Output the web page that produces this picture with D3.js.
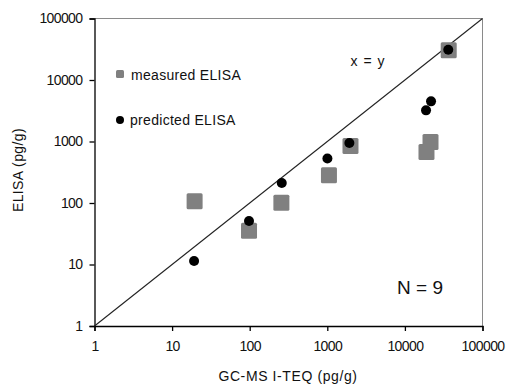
<!DOCTYPE html>
<html>
<head>
<meta charset="utf-8">
<script src="https://cdn.jsdelivr.net/npm/d3@7"></script>
<style>
  html, body { margin: 0; padding: 0; background: #fff; }
  svg { display: block; }
  text { font-family: "Liberation Sans", Arial, sans-serif; fill: #111; }
</style>
</head>
<body>
<div id="chart"></div>
<script>
// ---- data ----
const measuredX = [19.5, 98, 256, 1050, 1990, 18970, 21380, 36700];
const measuredY = [107, 35.5, 101, 283, 842, 676, 982, 30500];
const predictedX = [19.2, 98, 259, 1003, 1925, 18720, 21720, 36200];
const predictedY = [11.4, 51, 212, 528, 946, 3210, 4495, 31000];
const tickValues = [1, 10, 100, 1000, 10000, 100000];
const tickLabels = ["1", "10", "100", "1000", "10000", "100000"];
const seriesNames = ["measured ELISA", "predicted ELISA"];
const xTitle = "GC-MS I-TEQ (pg/g)";
const yTitle = "ELISA (pg/g)";

const W = 506, H = 384;
const mLeft = 94.5, mRight = 482.5, mTop = 18.5, mBottom = 326;

const svg = d3.select("#chart").append("svg").attr("width", W).attr("height", H);

const x = d3.scaleLog().domain([1, 100000]).range([mLeft, mRight]);
const y = d3.scaleLog().domain([1, 100000]).range([mBottom, mTop]);

// frame (top/right grey)
svg.append("line").attr("x1", mLeft).attr("x2", mRight).attr("y1", mTop).attr("y2", mTop)
  .attr("stroke", "#8a8a8a").attr("stroke-width", 1);
svg.append("line").attr("x1", mRight).attr("x2", mRight).attr("y1", mTop).attr("y2", mBottom)
  .attr("stroke", "#8a8a8a").attr("stroke-width", 1);

// axes
const xAxis = d3.axisBottom(x).tickValues(tickValues)
  .tickFormat((d, i) => tickLabels[i]).tickSize(5).tickPadding(10);
const yAxis = d3.axisLeft(y).tickValues(tickValues)
  .tickFormat((d, i) => tickLabels[i]).tickSize(5).tickPadding(7);

const gx = svg.append("g").attr("transform", `translate(0,${mBottom})`).call(xAxis);
const gy = svg.append("g").attr("transform", `translate(${mLeft},0)`).call(yAxis);
[gx, gy].forEach(g => {
  g.select(".domain").attr("stroke", "#000").attr("stroke-width", 1.3);
  g.selectAll(".tick line").attr("stroke", "#000").attr("stroke-width", 1.3);
  g.selectAll(".tick text").attr("font-size", 14).attr("fill", "#111")
    .style("font-family", "'Liberation Sans', Arial, sans-serif").attr("letter-spacing", -0.6);
});

// x = y line
svg.append("line")
  .attr("x1", x(1)).attr("y1", y(1)).attr("x2", x(100000)).attr("y2", y(100000))
  .attr("stroke", "#222").attr("stroke-width", 1.1);

// measured squares
const sq = 16;
svg.append("g").selectAll("rect").data(measuredX.map((d, i) => [d, measuredY[i]]))
  .join("rect")
  .attr("x", d => x(d[0]) - sq / 2).attr("y", d => y(d[1]) - sq / 2)
  .attr("width", sq).attr("height", sq).attr("rx", 1.5)
  .attr("fill", "#808080");

// predicted circles
svg.append("g").selectAll("circle").data(predictedX.map((d, i) => [d, predictedY[i]]))
  .join("circle")
  .attr("cx", d => x(d[0])).attr("cy", d => y(d[1])).attr("r", 5)
  .attr("fill", "#000");

// legend
svg.append("rect").attr("x", 116).attr("y", 70).attr("width", 8).attr("height", 8).attr("rx", 1.5)
  .attr("fill", "#808080");
svg.append("text").attr("x", 131).attr("y", 75).attr("dy", "0.35em")
  .attr("font-size", 14).attr("letter-spacing", 0.3).text(seriesNames[0]);
svg.append("circle").attr("cx", 120).attr("cy", 120).attr("r", 4).attr("fill", "#000");
svg.append("text").attr("x", 130).attr("y", 120).attr("dy", "0.35em")
  .attr("font-size", 14).attr("letter-spacing", 0.3).text(seriesNames[1]);

// annotations
svg.append("text").attr("x", 368).attr("y", 61).attr("dy", "0.35em").attr("text-anchor", "middle")
  .attr("font-size", 14).attr("letter-spacing", 1).text("x = y");
svg.append("text").attr("x", 420).attr("y", 287).attr("dy", "0.35em").attr("text-anchor", "middle")
  .attr("font-size", 19).text("N = 9");

// axis titles
svg.append("text").attr("x", 288).attr("y", 376).attr("dy", "0.35em").attr("text-anchor", "middle")
  .attr("font-size", 14).attr("letter-spacing", 0.6).text(xTitle);
svg.append("text").attr("transform", "translate(18,170) rotate(-90)").attr("dy", "0.35em")
  .attr("text-anchor", "middle").attr("font-size", 14).attr("letter-spacing", 0.4).text(yTitle);
</script>
</body>
</html>
